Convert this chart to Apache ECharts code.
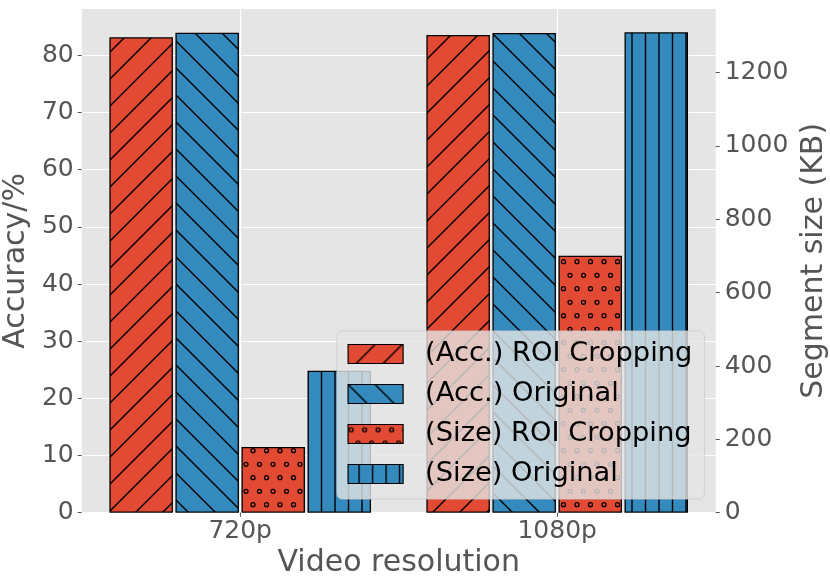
<!DOCTYPE html>
<html>
<head>
<meta charset="utf-8">
<script src="https://cdn.jsdelivr.net/npm/echarts@6/dist/echarts.min.js"></script>
<style>
  html, body { margin: 0; padding: 0; background: #fff; }
  #main { width: 830px; height: 587px; }
</style>
</head>
<body>
<div id="main"></div>
<script>
var categories = ['720p', '1080p'];
var accRoi = [83.15, 83.55];
var accOrig = [83.95, 83.9];
var sizeRoi = [179, 701];
var sizeOrig = [387, 1310];
var seriesNames = ['(Acc.) ROI Cropping', '(Acc.) Original', '(Size) ROI Cropping', '(Size) Original'];
var accTicks = [0, 10, 20, 30, 40, 50, 60, 70, 80];
var sizeTicks = [0, 200, 400, 600, 800, 1000, 1200];

var RED = '#E24A33';
var BLUE = '#348ABD';
var FONT = 'DejaVu Sans';

// hatch fill as a repeating canvas pattern
function makeHatch(bg, kind) {
  var s = 27;
  var c = document.createElement('canvas');
  c.width = s;
  c.height = s;
  var ctx = c.getContext('2d');
  ctx.fillStyle = bg;
  ctx.fillRect(0, 0, s, s);
  ctx.strokeStyle = '#000';
  ctx.lineWidth = 1.4;
  function seg(x1, y1, x2, y2) {
    ctx.beginPath();
    ctx.moveTo(x1, y1);
    ctx.lineTo(x2, y2);
    ctx.stroke();
  }
  if (kind == '/') {
    seg(0, s, s, 0);
    seg(-3, 3, 3, -3);
    seg(s - 3, s + 3, s + 3, s - 3);
  } else if (kind == '\\') {
    seg(0, 0, s, s);
    seg(-3, s - 3, 3, s + 3);
    seg(s - 3, -3, s + 3, 3);
  } else if (kind == '|') {
    seg(11, 0, 11, s);
    seg(24.5, 0, 24.5, s);
  } else if (kind == 'o') {
    ctx.lineWidth = 1.3;
    var pts = [[10, 18.7], [23.5, 18.7], [3, 5.3], [16.5, 5.3]];
    for (var i = 0; i < pts.length; i++) {
      for (var dx = -s; dx <= s; dx += s) {
        ctx.beginPath();
        ctx.arc(pts[i][0] + dx, pts[i][1], 2, 0, Math.PI * 2);
        ctx.stroke();
      }
    }
  }
  return { image: c, repeat: 'repeat' };
}

var fills = [makeHatch(RED, '/'), makeHatch(BLUE, '\\'), makeHatch(RED, 'o'), makeHatch(BLUE, '|')];

function barSeries(idx, data, yIdx) {
  return {
    name: seriesNames[idx],
    type: 'bar',
    yAxisIndex: yIdx,
    data: data,
    barWidth: 63.5,
    barGap: '4%',
    itemStyle: {
      color: fills[idx],
      borderColor: '#000',
      borderWidth: 1.3
    },
    emphasis: { disabled: true }
  };
}

var legendData = [];
for (var i = 0; i < seriesNames.length; i++) {
  legendData.push({
    name: seriesNames[i],
    icon: 'rect',
    itemStyle: { color: fills[i], borderColor: '#000', borderWidth: 1.2 }
  });
}

var myChart = echarts.init(document.getElementById('main'), null, { renderer: 'canvas' });
var option = {
  backgroundColor: '#fff',
  animation: false,
  grid: {
    left: 81.7,
    right: 114.3,
    top: 9,
    bottom: 74.3,
    outerBoundsMode: 'none',
    containLabel: false,
    show: true,
    backgroundColor: '#E5E5E5',
    borderWidth: 0
  },
  legend: {
    orient: 'vertical',
    left: 337,
    top: 331,
    itemWidth: 55,
    itemHeight: 19,
    itemGap: 13,
    padding: [9.5, 12, 11.5, 10.5],
    backgroundColor: 'rgba(229,229,229,0.8)',
    borderColor: 'rgba(204,204,204,0.8)',
    borderWidth: 1,
    borderRadius: 5,
    selectedMode: false,
    textStyle: {
      fontFamily: FONT,
      fontSize: 27.3,
      lineHeight: 27,
      color: '#000',
      padding: [0, 0, 0, 17]
    },
    data: legendData
  },
  xAxis: {
    type: 'category',
    data: categories,
    name: 'Video resolution',
    nameLocation: 'middle',
    nameGap: 33,
    nameTextStyle: { fontFamily: FONT, fontSize: 30, color: '#555' },
    axisLine: { show: false },
    axisTick: { show: true, alignWithLabel: true, length: 4, lineStyle: { color: '#555' } },
    axisLabel: { fontFamily: FONT, fontSize: 25, color: '#555', margin: 6 },
    splitLine: { show: true, alignWithLabel: true, lineStyle: { color: '#fff', width: 1.2 } }
  },
  yAxis: [
    {
      type: 'value',
      position: 'left',
      min: 0,
      max: 88.1,
      interval: 10,
      name: 'Accuracy/%',
      nameLocation: 'middle',
      nameGap: 44,
      nameRotate: 90,
      nameTextStyle: { fontFamily: FONT, fontSize: 30, color: '#555' },
      axisLine: { show: false },
      axisTick: { show: true, length: 4, lineStyle: { color: '#555' }, customValues: accTicks },
      axisLabel: { fontFamily: FONT, fontSize: 25, color: '#555', margin: 8, showMaxLabel: false },
      splitLine: { show: true, lineStyle: { color: '#fff', width: 1.2 } }
    },
    {
      type: 'value',
      position: 'right',
      min: 0,
      max: 1373.6,
      interval: 200,
      name: 'Segment size (KB)',
      nameLocation: 'middle',
      nameGap: 73,
      nameRotate: 90,
      nameTextStyle: { fontFamily: FONT, fontSize: 30, color: '#555' },
      axisLine: { show: false },
      axisTick: { show: true, length: 4, lineStyle: { color: '#555' }, customValues: sizeTicks },
      axisLabel: {
        fontFamily: FONT, fontSize: 25, color: '#555', margin: 9, showMaxLabel: false,
        formatter: function (value) {
          return String(value);
        }
      },
      splitLine: { show: false }
    }
  ],
  series: [
    barSeries(0, accRoi, 0),
    barSeries(1, accOrig, 0),
    barSeries(2, sizeRoi, 1),
    barSeries(3, sizeOrig, 1)
  ]
};
myChart.setOption(option, true);
</script>
</body>
</html>
